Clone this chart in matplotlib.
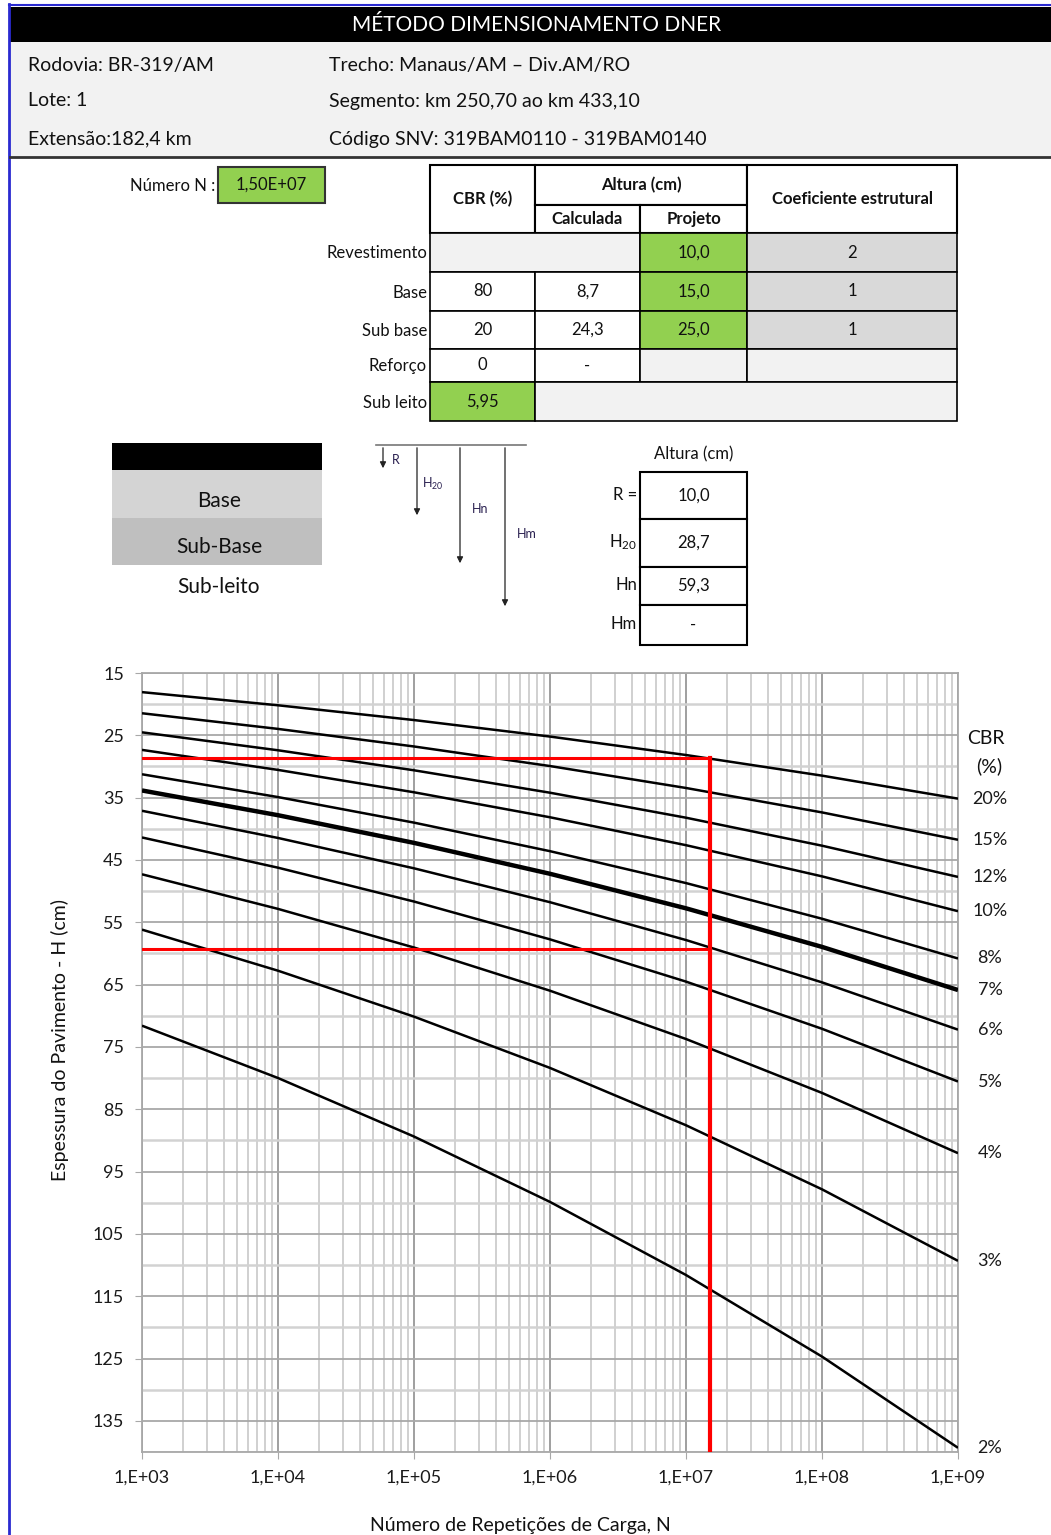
import numpy as np
import matplotlib
matplotlib.use("Agg")
import matplotlib.pyplot as plt
from matplotlib.patches import Rectangle
from matplotlib.ticker import FixedLocator, LogLocator, NullFormatter

plt.rcParams['font.family'] = ['Lato', 'DejaVu Sans']
plt.rcParams['mathtext.default'] = 'regular'

# ==========================
# Data
# ==========================
n_decades = [1e3, 1e4, 1e5, 1e6, 1e7, 1e8, 1e9]
n_tick_labels = ["1,E+03", "1,E+04", "1,E+05", "1,E+06", "1,E+07", "1,E+08", "1,E+09"]

cbr_labels = ["20%", "15%", "12%", "10%", "8%", "7%", "6%", "5%", "4%", "3%", "2%"]
h_cbr20 = [18.07, 20.18, 22.55, 25.20, 28.16, 31.47, 35.16]
h_cbr15 = [21.46, 23.97, 26.79, 29.93, 33.45, 37.37, 41.76]
h_cbr12 = [24.52, 27.40, 30.61, 34.21, 38.22, 42.71, 47.72]
h_cbr10 = [27.34, 30.55, 34.14, 38.15, 42.63, 47.63, 53.22]
h_cbr8 = [31.25, 34.91, 39.01, 43.59, 48.71, 54.43, 60.81]
h_cbr7 = [33.85, 37.82, 42.26, 47.22, 52.76, 58.95, 65.87]
h_cbr6 = [37.11, 41.47, 46.34, 51.78, 57.85, 64.64, 72.23]
h_cbr5 = [41.39, 46.24, 51.67, 57.74, 64.52, 72.09, 80.55]
h_cbr4 = [47.30, 52.85, 59.05, 65.98, 73.73, 82.38, 92.05]
h_cbr3 = [56.18, 62.77, 70.14, 78.37, 87.57, 97.85, 109.33]
h_cbr2 = [71.59, 79.99, 89.38, 99.87, 111.60, 124.69, 139.33]
curves = [h_cbr20, h_cbr15, h_cbr12, h_cbr10, h_cbr8, h_cbr7,
          h_cbr6, h_cbr5, h_cbr4, h_cbr3, h_cbr2]

numero_n = 1.5e7
altura_r = 10.0
altura_h20 = 28.7
altura_hn = 59.3

y_major = [15, 25, 35, 45, 55, 65, 75, 85, 95, 105, 115, 125, 135]
y_minor = [20, 30, 40, 50, 60, 70, 80, 90, 100, 110, 120, 130, 140]

GREEN = '#92d050'
LIGHT = '#f2f2f2'
GRAY = '#d9d9d9'

fig = plt.figure(figsize=(10.51, 15.35), dpi=100)

# overlay in pixel coordinates for the sheet part
ov = fig.add_axes([0, 0, 1, 1])
ov.set_xlim(0, 1051)
ov.set_ylim(1535, 0)
ov.axis('off')


def box(x0, x1, y0, y1, fc='white', ec='black', lw=1.2, txt=None, size=12, bold=False):
    ov.add_patch(Rectangle((x0, y0), x1 - x0, y1 - y0, fc=fc, ec=ec, lw=lw))
    if txt is not None:
        ov.text((x0 + x1) / 2, (y0 + y1) / 2, txt, ha='center', va='center',
                fontsize=size, fontweight='bold' if bold else 'normal', color='#111')


# ==========================
# Header
# ==========================
ov.plot([9, 9], [4, 1535], color='#2a2ad0', lw=2)
ov.plot([9, 1051], [5, 5], color='#2a2ad0', lw=1.5)
ov.add_patch(Rectangle((10, 7), 1041, 35, fc='black', ec='none'))
ov.text(537, 25, "MÉTODO DIMENSIONAMENTO DNER", color='white', fontsize=15,
        ha='center', va='center')
ov.add_patch(Rectangle((10, 42), 1041, 115, fc=LIGHT, ec='none'))
ov.plot([10, 1051], [157, 157], color='#333', lw=2)

info_left = ["Rodovia: BR-319/AM", "Lote: 1", "Extensão:182,4 km"]
info_right = ["Trecho: Manaus/AM – Div.AM/RO", "Segmento: km 250,70 ao km 433,10",
              "Código SNV: 319BAM0110 - 319BAM0140"]
for i, y in enumerate([65, 101, 139]):
    ov.text(28, y, info_left[i], fontsize=14, va='center', color='#111')
    ov.text(329, y, info_right[i], fontsize=14, va='center', color='#111')

# ==========================
# Number N and layer table
# ==========================
ov.text(215, 186, "Número N :", ha='right', va='center', fontsize=12, color='#111')
box(218, 325, 167, 203, fc=GREEN, ec='#333', lw=1.5, txt="1,50E+07", size=12)

box(430, 535, 165, 233, txt="CBR (%)", bold=True, lw=1.5)
box(535, 747, 165, 205, txt="Altura (cm)", bold=True, lw=1.5)
box(535, 640, 205, 233, txt="Calculada", bold=True, lw=1.5)
box(640, 747, 205, 233, txt="Projeto", bold=True, lw=1.5)
box(747, 957, 165, 233, txt="Coeficiente estrutural", bold=True, lw=1.5)

row_names = ["Revestimento", "Base", "Sub base", "Reforço", "Sub leito"]
row_y = [(233, 272), (272, 311), (311, 349), (349, 382), (382, 421)]
for name, (y0, y1) in zip(row_names, row_y):
    ov.text(427, (y0 + y1) / 2 + 1, name, ha='right', va='center', fontsize=12, color='#111')

box(430, 640, 233, 272, fc=LIGHT)
box(640, 747, 233, 272, fc=GREEN, txt="10,0")
box(747, 957, 233, 272, fc=GRAY, txt="2")
box(430, 535, 272, 311, txt="80")
box(535, 640, 272, 311, txt="8,7")
box(640, 747, 272, 311, fc=GREEN, txt="15,0")
box(747, 957, 272, 311, fc=GRAY, txt="1")
box(430, 535, 311, 349, txt="20")
box(535, 640, 311, 349, txt="24,3")
box(640, 747, 311, 349, fc=GREEN, txt="25,0")
box(747, 957, 311, 349, fc=GRAY, txt="1")
box(430, 535, 349, 382, txt="0")
box(535, 640, 349, 382, txt="-")
box(640, 747, 349, 382, fc=LIGHT)
box(747, 957, 349, 382, fc=LIGHT)
box(430, 535, 382, 421, fc=GREEN, txt="5,95")
box(535, 957, 382, 421, fc=LIGHT)

# ==========================
# Layer sketch and arrows
# ==========================
ov.add_patch(Rectangle((112, 443), 210, 27, fc='black', ec='none'))
ov.add_patch(Rectangle((112, 470), 210, 48, fc='#d4d4d4', ec='none'))
ov.add_patch(Rectangle((112, 518), 210, 47, fc='#bfbfbf', ec='none'))
ov.text(219, 501, "Base", ha='center', va='center', fontsize=15, color='#111')
ov.text(219, 547, "Sub-Base", ha='center', va='center', fontsize=15, color='#111')
ov.text(219, 587, "Sub-leito", ha='center', va='center', fontsize=15, color='#111')

ov.plot([376, 526], [445, 445], color='#777', lw=1.2)
arrows = [(383, 471, "R", 392, 460), (417, 518, "H$_{20}$", 422, 484),
          (460, 566, "Hn", 472, 509), (505, 609, "Hm", 517, 534)]
for x, y_end, lab, tx, ty in arrows:
    ov.annotate('', xy=(x, y_end), xytext=(x, 445),
                arrowprops=dict(arrowstyle='-|>', color='#222', lw=0.9, mutation_scale=9))
    ov.text(tx, ty, lab, fontsize=9, va='center', ha='left', color='#2a2050')

ov.text(694, 454, "Altura (cm)", ha='center', va='center', fontsize=12, color='#111')
small_rows = [(472, 519, "R =", "10,0"), (519, 567, "H$_{20}$", "28,7"),
              (567, 605, "Hn", "59,3"), (605, 645, "Hm", "-")]
for y0, y1, lab, val in small_rows:
    box(640, 747, y0, y1, lw=1.5, txt=val, )
    ov.text(637, (y0 + y1) / 2 - 1, lab, ha='right', va='center', fontsize=12, color='#111')

# ==========================
# DNER chart
# ==========================
ax = fig.add_axes([142 / 1051, 1 - 1452 / 1535, 816 / 1051, 779 / 1535])
ax.set_xscale('log')
ax.set_xlim(1e3, 1e9)
ax.set_ylim(140, 15)

ax.xaxis.set_major_locator(FixedLocator(n_decades))
ax.set_xticks(n_decades)
ax.set_xticklabels(n_tick_labels)
ax.xaxis.set_minor_locator(LogLocator(base=10, subs=np.arange(2, 10), numticks=20))
ax.xaxis.set_minor_formatter(NullFormatter())
ax.set_yticks(y_major)
ax.set_yticks(y_minor, minor=True)

ax.grid(which='major', axis='y', color='#a8a8a8', lw=1.3)
ax.grid(which='minor', axis='y', color='#d2d2d2', lw=1.8)
ax.grid(which='major', axis='x', color='#8f8f8f', lw=1.2)
ax.grid(which='minor', axis='x', color='#d0d0d0', lw=1.4)
ax.set_axisbelow(True)
for s in ax.spines.values():
    s.set_color('#a8a8a8')
    s.set_linewidth(1.3)

ax.tick_params(which='major', length=5, color='#a8a8a8', labelsize=13,
               labelcolor='#1a1a1a')
ax.tick_params(which='minor', length=0)
ax.tick_params(axis='x', which='major', pad=8)
ax.tick_params(axis='y', which='major', pad=8)

for h, lab in zip(curves, cbr_labels):
    lw = 3.2 if lab == "7%" else 1.8
    ax.plot(n_decades, h, color='black', lw=lw, solid_capstyle='butt', zorder=3)
    ax.annotate(lab, xy=(n_decades[-1], h[-1]), xytext=(23, 0),
                textcoords='offset points', ha='center', va='center',
                fontsize=13, color='#1a1a1a', annotation_clip=False)

# projeto lines (N and H20 / Hn)
ax.plot([n_decades[0], numero_n], [altura_h20, altura_h20], color='red', lw=2.2, zorder=4)
ax.plot([n_decades[0], numero_n], [altura_hn, altura_hn], color='red', lw=2.2, zorder=4)
ax.plot([numero_n, numero_n], [altura_h20, 140], color='red', lw=3, zorder=4)

ov.text(986, 738, "CBR", ha='center', va='center', fontsize=14, color='#111')
ov.text(989, 766, "(%)", ha='center', va='center', fontsize=14, color='#111')
ov.text(60, 1040, "Espessura do Pavimento - H (cm)", rotation=90, ha='center',
        va='center', fontsize=14, color='#111')
ov.text(520, 1525, "Número de Repetições de Carga, N", ha='center', va='center',
        fontsize=14, color='#111')

plt.savefig("out.png", dpi=100)
